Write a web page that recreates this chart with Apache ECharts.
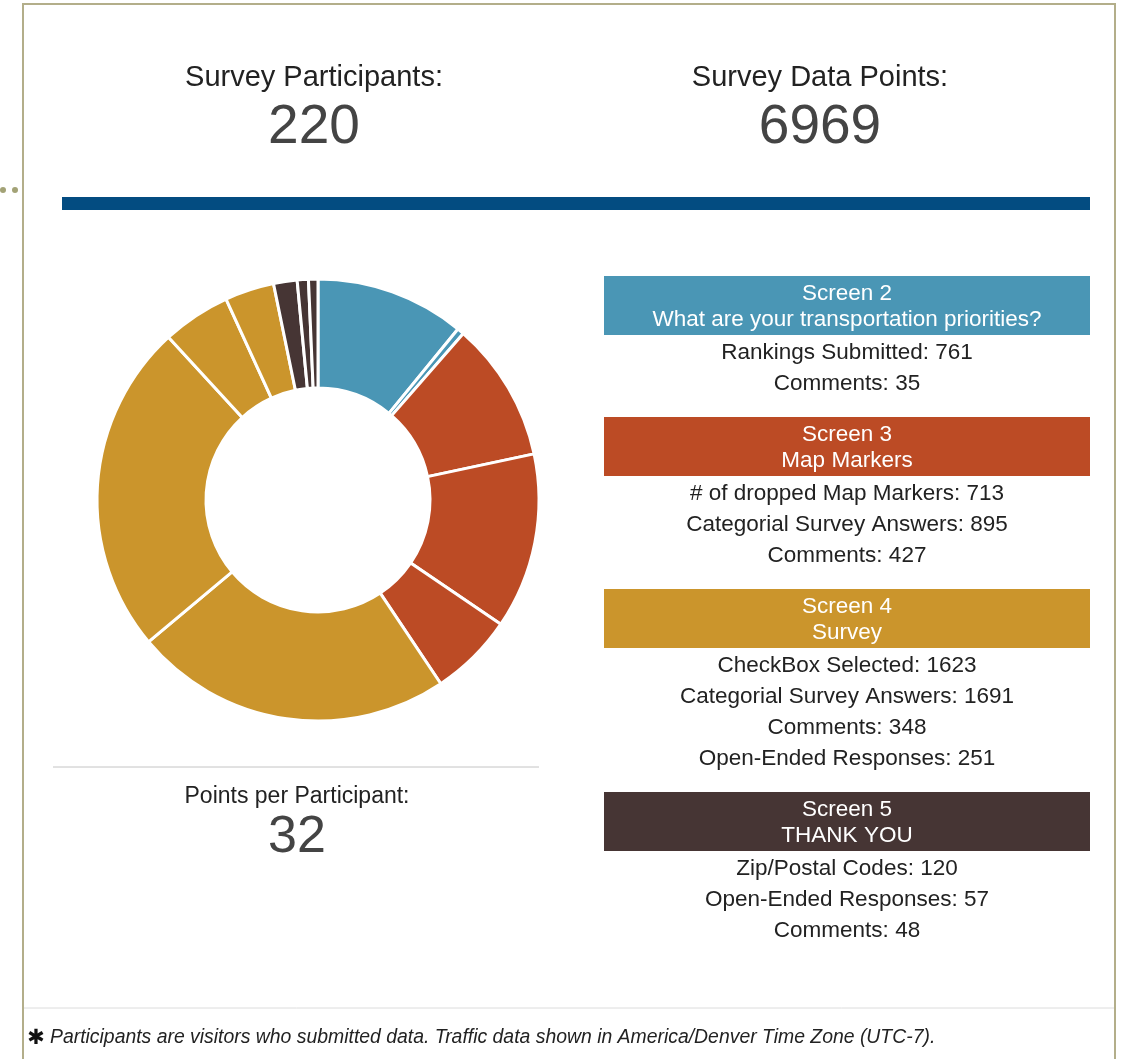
<!DOCTYPE html>
<html>
<head>
<meta charset="utf-8">
<script src="https://cdn.jsdelivr.net/npm/echarts@6/dist/echarts.min.js"></script>
<style>
  html, body { margin: 0; padding: 0; background: #fff; }
  #chart { width: 1122px; height: 1059px; }
</style>
</head>
<body>
<div id="chart"></div>
<script>
  // survey summary
  const participants = 220
  const screenNames = ['Screen 2', 'Screen 3', 'Screen 4', 'Screen 5']
  const screenTitles = ['What are your transportation priorities?', 'Map Markers', 'Survey', 'THANK YOU']
  const itemLabels = [
    ['Rankings Submitted', 'Comments'],
    ['# of dropped Map Markers', 'Categorial Survey Answers', 'Comments'],
    ['CheckBox Selected', 'Categorial Survey Answers', 'Comments', 'Open-Ended Responses'],
    ['Zip/Postal Codes', 'Open-Ended Responses', 'Comments']
  ]
  const itemValues = [
    [761, 35],
    [713, 895, 427],
    [1623, 1691, 348, 251],
    [120, 57, 48]
  ]
  const footnote = 'Participants are visitors who submitted data. Traffic data shown in America/Denver Time Zone (UTC-7).'

  const screenColors = ['#4a96b5', '#bc4b25', '#cb952c', '#463534']
  const FONT = '"Liberation Sans", Arial, sans-serif'

  const totalPoints = itemValues.flat().reduce((a, b) => a + b, 0)
  const perParticipant = Math.round(totalPoints / participants)

  // pie data, one slice per item, coloured by screen
  const pieData = []
  itemValues.forEach((vals, i) => {
    vals.forEach((v, j) => {
      pieData.push({ name: screenNames[i] + ' - ' + itemLabels[i][j], value: v, itemStyle: { color: screenColors[i] } })
    })
  })

  const graphics = []
  const txt = (x, y, text, size, color, extra) => {
    graphics.push({
      type: 'text', x, y,
      style: Object.assign({ text, fontSize: size, fontFamily: FONT, fill: color, align: 'center', verticalAlign: 'middle' }, extra || {})
    })
  }

  // frame
  graphics.push({ type: 'rect', shape: { x: 23, y: 4, width: 1092, height: 1070 }, style: { fill: 'none', stroke: '#b3ae8a', lineWidth: 2 } })
  graphics.push({ type: 'circle', shape: { cx: 3, cy: 190, r: 3 }, style: { fill: '#a3a276' } })
  graphics.push({ type: 'circle', shape: { cx: 15, cy: 190, r: 3 }, style: { fill: '#a3a276' } })

  // header numbers
  txt(314, 78, 'Survey Participants:', 29, '#222')
  txt(314, 128, String(participants), 55, '#444')
  txt(820, 78, 'Survey Data Points:', 29, '#222')
  txt(820, 128, String(totalPoints), 55, '#444')
  graphics.push({ type: 'rect', shape: { x: 62, y: 197, width: 1028, height: 13 }, style: { fill: '#034c81' } })

  // points per participant
  graphics.push({ type: 'line', shape: { x1: 53, y1: 767, x2: 539, y2: 767 }, style: { stroke: '#c4c4c4', lineWidth: 1 } })
  txt(297, 797, 'Points per Participant:', 23, '#222')
  txt(297, 838, String(perParticipant), 52, '#444')

  // screen panels
  let boxTop = 276
  screenNames.forEach((name, i) => {
    graphics.push({ type: 'rect', shape: { x: 604, y: boxTop, width: 486, height: 59 }, style: { fill: screenColors[i] } })
    txt(847, boxTop + 18, name, 22.5, '#fff')
    txt(847, boxTop + 44, screenTitles[i], 22.5, '#fff')
    let cy = boxTop + 59 + 18
    itemLabels[i].forEach((lab, j) => {
      cy = boxTop + 59 + 18 + 31 * j
      txt(847, cy, lab + ': ' + itemValues[i][j], 22.5, '#222')
    })
    boxTop = cy + 33
  })

  // footer
  graphics.push({ type: 'line', shape: { x1: 24, y1: 1008, x2: 1114, y2: 1008 }, style: { stroke: '#dcdcdc', lineWidth: 1 } })
  txt(36, 1039, '\u2731', 21, '#111', { fontFamily: 'DejaVu Sans' })
  txt(50, 1038, footnote, 19.4, '#222', { align: 'left', fontStyle: 'italic' })

  const chart = echarts.init(document.getElementById('chart'))
  chart.setOption({
    animation: false,
    backgroundColor: '#fff',
    series: [{
      type: 'pie',
      center: [318, 500],
      radius: [112, 221],
      startAngle: 90,
      clockwise: true,
      label: { show: false },
      labelLine: { show: false },
      itemStyle: { borderColor: '#fff', borderWidth: 3 },
      emphasis: { scale: false },
      data: pieData
    }],
    graphic: graphics
  })
</script>
</body>
</html>
